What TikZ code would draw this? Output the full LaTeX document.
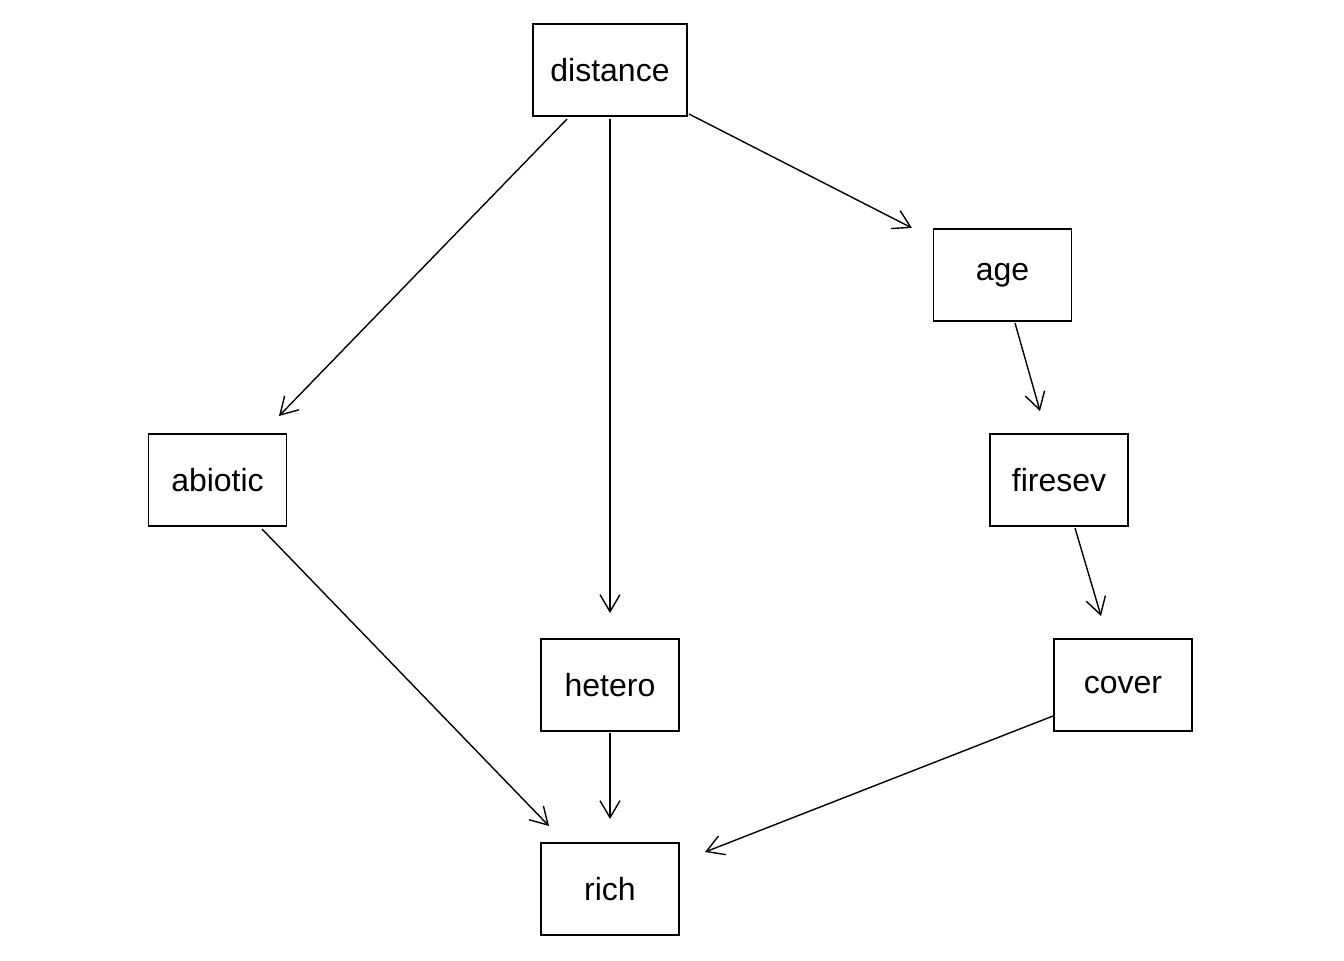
\documentclass[tikz,border=0pt]{standalone}
\usepackage{fontspec}
\setmainfont{Liberation Sans}
\usetikzlibrary{arrows.meta}
\begin{document}
\begin{tikzpicture}[x=0.5pt,y=-0.5pt,
  box/.style={draw, line width=0.7pt, inner sep=0pt, minimum width=69pt, minimum height=46pt, font=\fontsize{16}{19}\selectfont},
  arr/.style={line width=0.7pt, -{Straight Barb[length=8.5pt,width=10pt,line width=0.7pt]}}]
\useasboundingbox (0,0) rectangle (1344,960);
\node[box, minimum width=77pt] (distance) at (610,70) {distance};
\node[box] (age) at (1002.5,275) {age};
\node[box] (abiotic) at (217.5,480) {abiotic};
\node[box] (firesev) at (1059,480) {firesev};
\node[box] (hetero) at (610,685) {hetero};
\node[box] (cover) at (1123,685) {cover};
\node[box] (rich) at (610,889) {rich};
\coordinate (d1) at (567,119); \coordinate (ab1) at (279,416);
\coordinate (d2) at (610,119); \coordinate (h1) at (610,613);
\coordinate (d3) at (689,114); \coordinate (ag1) at (912,228);
\coordinate (ag2) at (1015,323); \coordinate (f1) at (1040,411);
\coordinate (ab2) at (262,529); \coordinate (r1) at (549,826);
\coordinate (h2) at (610,733); \coordinate (r2) at (610,819);
\coordinate (f2) at (1075,528); \coordinate (c1) at (1101,616);
\coordinate (c2) at (1053,716); \coordinate (r3) at (705,852);
\draw[arr] (d1) -- (ab1);
\draw[arr] (d2) -- (h1);
\draw[arr] (d3) -- (ag1);
\draw[arr] (ag2) -- (f1);
\draw[arr] (ab2) -- (r1);
\draw[arr] (h2) -- (r2);
\draw[arr] (f2) -- (c1);
\draw[arr] (c2) -- (r3);
\end{tikzpicture}
\end{document}
